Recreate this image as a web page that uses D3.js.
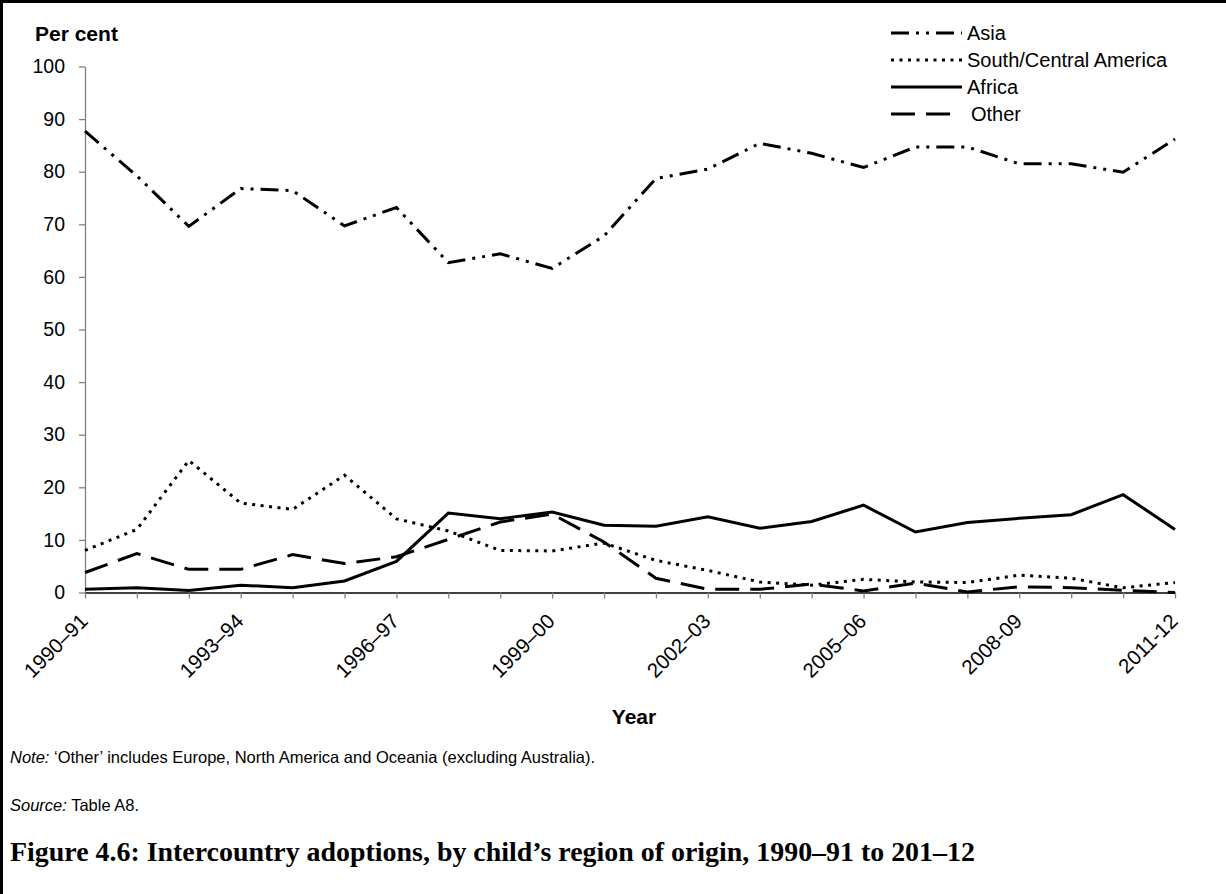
<!DOCTYPE html>
<meta charset="utf-8">
<script src="https://d3js.org/d3.v7.min.js"></script>
<style>
  body { margin: 0; background: #fff; }
  text { font-family: "Liberation Sans", Arial, sans-serif; fill: #000; }
</style>
<svg id="chart" width="1226" height="894"></svg>
<script>
  // categories (financial years)
  var years = ["1990–91","1991–92","1992–93","1993–94","1994–95","1995–96","1996–97","1997–98",
    "1998–99","1999–00","2000–01","2001–02","2002–03","2003–04","2004–05","2005–06",
    "2006–07","2007–08","2008-09","2009-10","2010-11","2011-12"];
  var shownYears = ["1990–91","1993–94","1996–97","1999–00","2002–03","2005–06","2008-09","2011-12"];

  // per cent of intercountry adoptions, by region
  var asia   = [87.7, 79.2, 69.6, 76.8, 76.4, 69.7, 73.2, 62.7, 64.4, 61.6, 67.8, 78.7,
                80.5, 85.4, 83.5, 80.8, 84.7, 84.7, 81.5, 81.5, 79.9, 86.2];
  var sca    = [8.0, 12.0, 25.1, 17.0, 15.8, 22.3, 14.0, 11.7, 8.0, 7.9, 9.4, 6.1,
                4.2, 2.0, 1.4, 2.5, 2.0, 1.9, 3.3, 2.7, 0.9, 1.9];
  var africa = [0.6, 0.9, 0.4, 1.4, 0.9, 2.2, 5.9, 15.1, 14.0, 15.3, 12.8, 12.6,
                14.4, 12.2, 13.5, 16.6, 11.5, 13.3, 14.1, 14.8, 18.6, 12.0];
  var other  = [3.8, 7.4, 4.4, 4.4, 7.2, 5.5, 6.8, 10.1, 13.4, 14.9, 9.6, 2.7,
                0.6, 0.6, 1.6, 0.3, 1.8, 0.1, 1.1, 0.9, 0.4, 0.0];

  var yTicks = [0, 10, 20, 30, 40, 50, 60, 70, 80, 90, 100];

  var series = [
    { name: "Asia", values: asia, dash: "18,7,3,7,3,7" },
    { name: "South/Central America", values: sca, dash: "3,5.5" },
    { name: "Africa", values: africa, dash: null },
    { name: "Other", values: other, dash: "24,11" }
  ];

  var svg = d3.select("#chart");

  // frame: top and left rule only
  svg.append("line").attr("x1", 0).attr("x2", 1226).attr("y1", 1.5).attr("y2", 1.5)
    .attr("stroke", "#000").attr("stroke-width", 3);
  svg.append("line").attr("x1", 1.5).attr("x2", 1.5).attr("y1", 0).attr("y2", 894)
    .attr("stroke", "#000").attr("stroke-width", 3);

  // scales
  var x = d3.scalePoint().domain(years).range([85, 1175]);
  var y = d3.scaleLinear().domain([0, 100]).range([592.5, 66.5]);

  // y axis
  var yAxis = svg.append("g")
    .attr("transform", "translate(85,0)")
    .call(d3.axisLeft(y).tickValues(yTicks).tickSize(6).tickPadding(14).tickSizeOuter(0));
  yAxis.select(".domain").attr("stroke", "#808080").attr("stroke-width", 1.3);
  yAxis.selectAll(".tick line").attr("stroke", "#808080").attr("stroke-width", 1.3);
  yAxis.selectAll(".tick text").attr("font-size", 19.5).attr("font-family", "Liberation Sans, Arial, sans-serif");

  // x axis
  var xAxis = svg.append("g")
    .attr("transform", "translate(0," + y(0) + ")")
    .call(d3.axisBottom(x).tickSize(6).tickSizeOuter(0).tickFormat(""));
  xAxis.select(".domain").attr("stroke", "#000").attr("stroke-width", 1.5);
  xAxis.selectAll(".tick line").attr("stroke", "#808080").attr("stroke-width", 1.3);

  // rotated year labels
  svg.append("g").selectAll("text")
    .data(shownYears)
    .join("text")
      .attr("transform", function(d) { return "translate(" + (x(d) + 4) + "," + (y(0) + 30) + ") rotate(-45)"; })
      .attr("text-anchor", "end")
      .attr("font-size", 20.5)
      .text(function(d) { return d; });

  // axis titles
  svg.append("text").attr("x", 35).attr("y", 41)
    .attr("font-weight", "bold").attr("font-size", 21).text("Per cent");
  svg.append("text").attr("x", 634).attr("y", 724).attr("text-anchor", "middle")
    .attr("font-weight", "bold").attr("font-size", 21).text("Year");

  // lines
  var line = d3.line()
    .x(function(d, i) { return x(years[i]); })
    .y(function(d) { return y(d); });

  svg.append("g").selectAll("path")
    .data(series)
    .join("path")
      .attr("d", function(d) { return line(d.values); })
      .attr("fill", "none")
      .attr("stroke", "#000")
      .attr("stroke-width", 3)
      .attr("stroke-dasharray", function(d) { return d.dash; });

  // legend
  var legend = svg.append("g").selectAll("g")
    .data(series)
    .join("g")
      .attr("transform", function(d, i) { return "translate(891," + (33 + i * 27) + ")"; });
  legend.append("line")
    .attr("x1", 0)
    .attr("x2", function(d) { return d.name == "Other" ? 59 : 71; })
    .attr("stroke", "#000").attr("stroke-width", 3)
    .attr("stroke-dasharray", function(d) { return d.dash; });
  legend.append("text")
    .attr("x", function(d) { return d.name == "Other" ? 80 : 76; })
    .attr("y", 7)
    .attr("font-size", 20)
    .text(function(d) { return d.name; });

  // notes
  var note = svg.append("text").attr("x", 10).attr("y", 763).attr("font-size", 16.5);
  note.append("tspan").attr("font-style", "italic").text("Note:");
  note.append("tspan").text(" ‘Other’ includes Europe, North America and Oceania (excluding Australia).");

  var source = svg.append("text").attr("x", 10).attr("y", 811).attr("font-size", 16.5);
  source.append("tspan").attr("font-style", "italic").text("Source:");
  source.append("tspan").text(" Table A8.");

  // figure title, sized to the reference width
  var title = svg.append("text").attr("x", 10).attr("y", 861)
    .attr("font-weight", "bold").attr("font-size", 22)
    .style("font-family", "'Liberation Serif', 'DejaVu Serif', serif")
    .text("Figure 4.6: Intercountry adoptions, by child’s region of origin, 1990–91 to 201–12");
  var w = title.node().getComputedTextLength();
  title.attr("font-size", 22 * 965 / w);
</script>
